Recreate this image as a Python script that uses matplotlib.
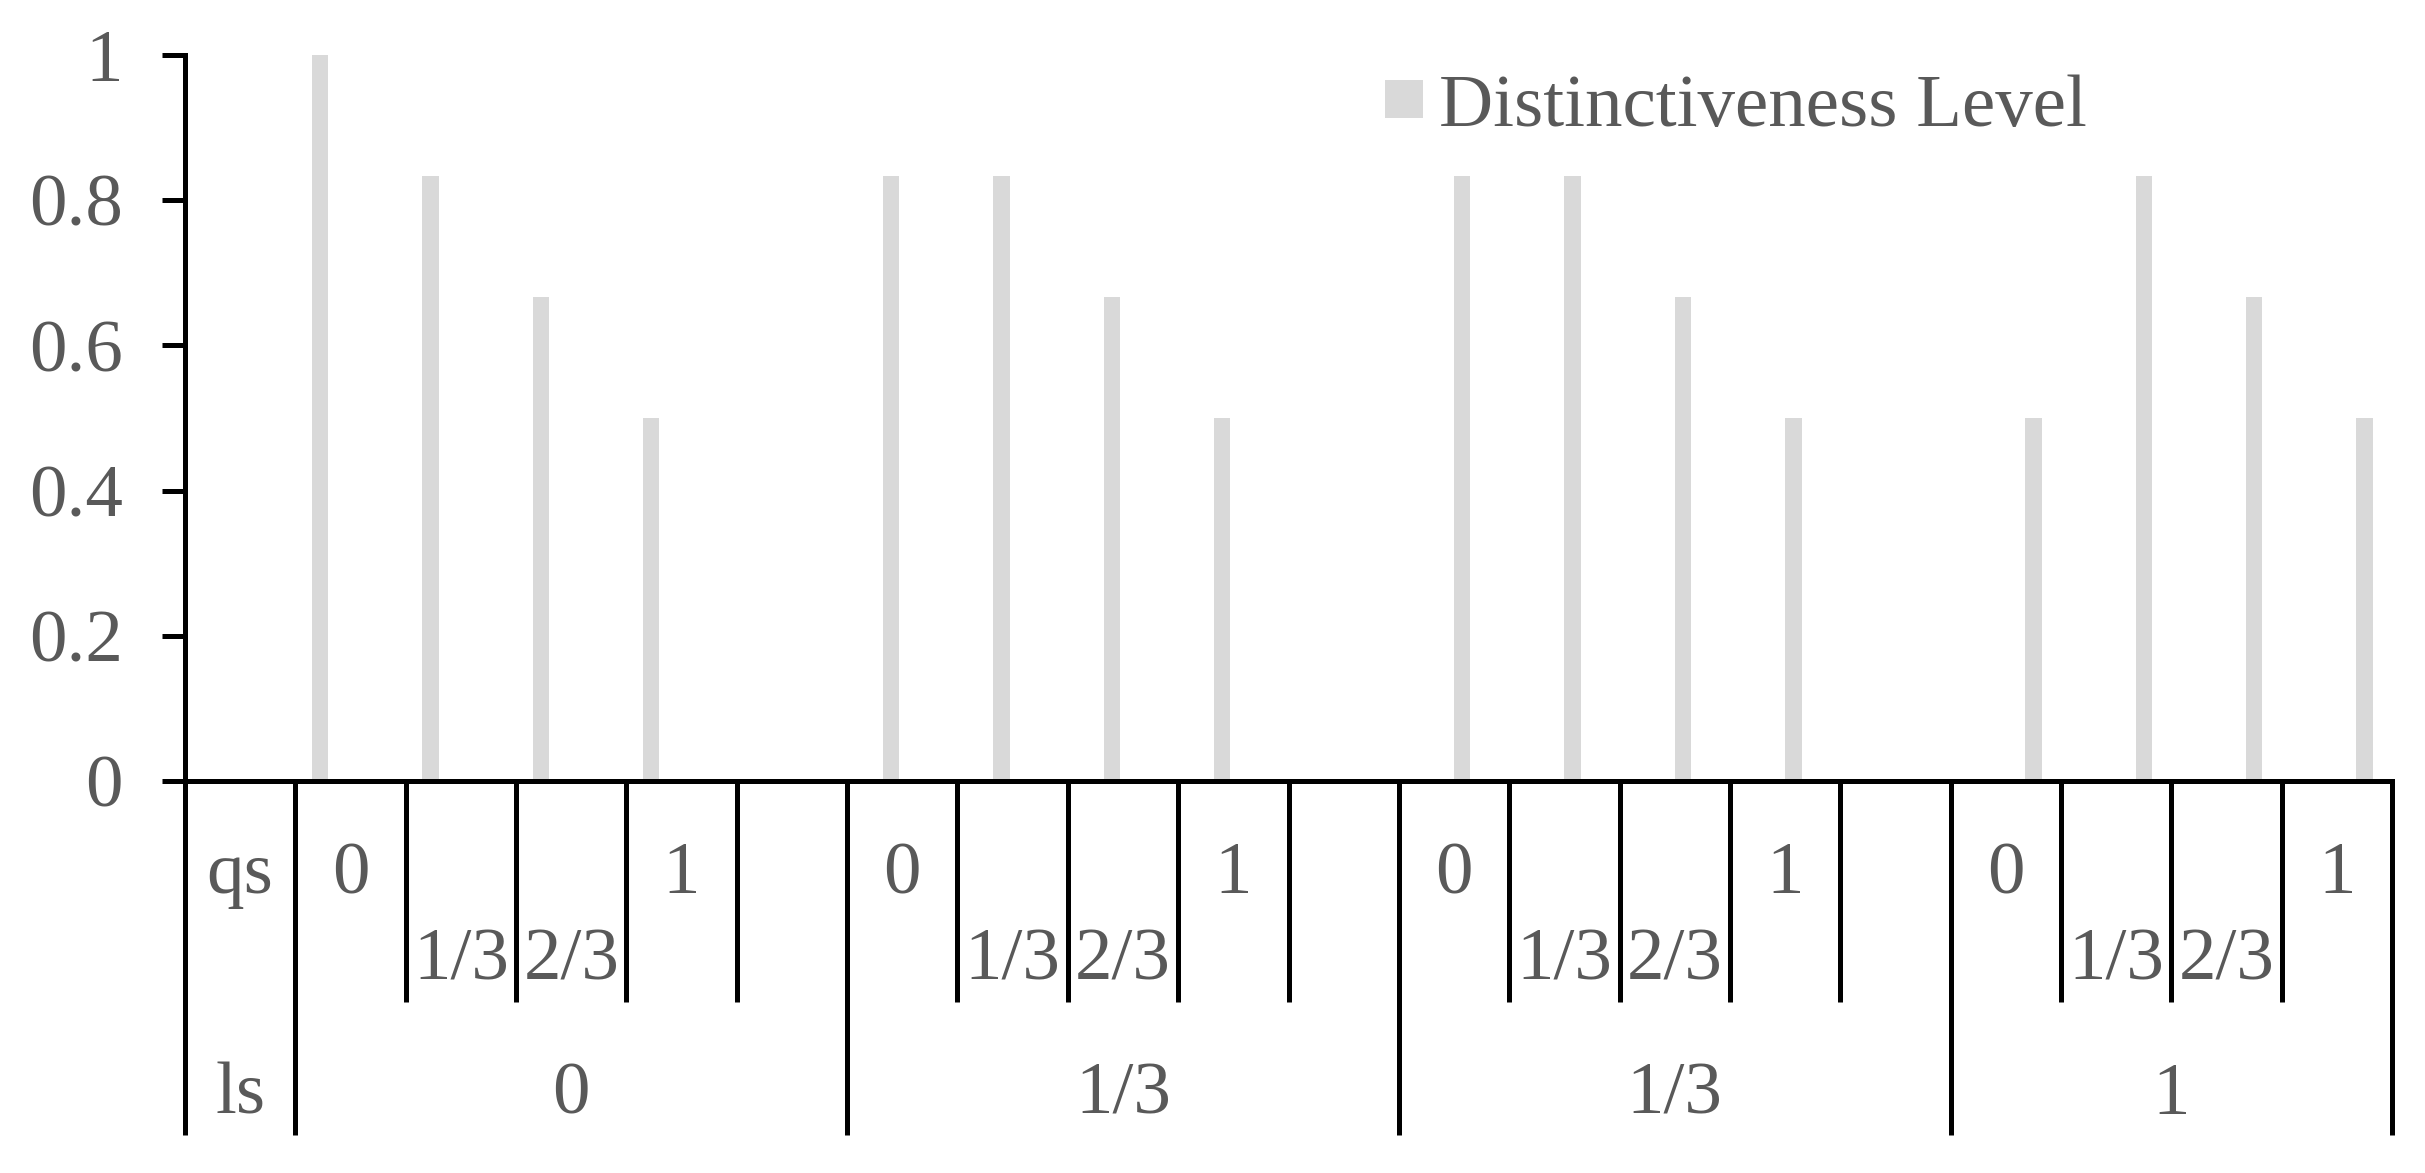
import numpy as np
import matplotlib
matplotlib.use("Agg")
import matplotlib.pyplot as plt

# data
qs_levels = ["0", "1/3", "2/3", "1"]
ls_groups = ["0", "1/3", "1/3", "1"]
group_cols = [5, 5, 5, 4]          # table columns per ls group (last has no spare slot)
distinctiveness = [1.0, 0.833, 0.667, 0.5,
                   0.833, 0.833, 0.667, 0.5,
                   0.833, 0.833, 0.667, 0.5,
                   0.5, 0.833, 0.667, 0.5]
yticks = [0, 0.2, 0.4, 0.6, 0.8, 1]
ytick_labels = ["0", "0.2", "0.4", "0.6", "0.8", "1"]

# layout (pixels on the 2425x1173 canvas)
W, H, DPI = 2425, 1173, 100
X0, X1 = 185.0, 2392.0
Y0, Y1 = 781.0, 55.0
TXT = "#595959"
BAR = "#D9D9D9"
FS = 54
LW = 3.6
BAR_X0, BAR_GROUP_PITCH, BAR_PITCH, BAR_W = 1.225, 5.175, 1.0, 0.148

plt.rcParams["font.family"] = ["Liberation Serif", "DejaVu Serif"]

fig = plt.figure(figsize=(W / DPI, H / DPI), dpi=DPI)
ax = fig.add_axes([X0 / W, 1 - Y0 / H, (X1 - X0) / W, (Y0 - Y1) / H])
ncols = 1 + sum(group_cols)
ax.set_xlim(0, ncols)
ax.set_ylim(0, 1)

px = (Y0 - Y1)  # pixels per data unit on y
def ydown(p):   # pixel y on canvas -> data y
    return -(p - Y0) / px

# bars
xs = []
for g in range(len(ls_groups)):
    for j in range(len(qs_levels)):
        xs.append(BAR_X0 + g * BAR_GROUP_PITCH + j * BAR_PITCH)
ax.bar(xs, distinctiveness, width=BAR_W, color=BAR, label="Distinctiveness Level", zorder=1)

# axes styling
for s in ["top", "right"]:
    ax.spines[s].set_visible(False)
for s in ["left", "bottom"]:
    ax.spines[s].set_linewidth(LW)
    ax.spines[s].set_color("black")
    ax.spines[s].set_zorder(3)
ax.set_xticks([])
ax.set_yticks(yticks)
ax.set_yticklabels(ytick_labels, fontsize=FS, color=TXT)
ax.tick_params(axis="y", length=16.6, width=LW, pad=28, direction="out")

# category table under the axis
short_end = ydown(1001.7)
tall_end = ydown(1135.0)
tall = [0, 1]
c = 1
for n in group_cols:
    c += n
    tall.append(c)
ax.vlines(tall, tall_end, 0, colors="black", lw=LW, clip_on=False)
short = [k for k in range(1, ncols) if k not in tall]
ax.vlines(short, short_end, 0, colors="black", lw=LW, clip_on=False)

row_hi, row_lo, row_ls = ydown(893), ydown(980), ydown(1114)
ax.text(0.5, row_hi, "qs", ha="center", va="baseline", fontsize=FS, color=TXT)
ax.text(0.5, row_ls, "ls", ha="center", va="baseline", fontsize=FS, color=TXT)
start = 1
for g, n in enumerate(group_cols):
    for j, lab in enumerate(qs_levels):
        yy = row_lo if "/" in lab else row_hi
        ax.text(start + j + 0.5, yy, lab, ha="center", va="baseline", fontsize=FS, color=TXT)
    ax.text(start + n / 2, row_ls, ls_groups[g], ha="center", va="baseline", fontsize=FS, color=TXT)
    start += n

leg = ax.legend(loc="center left", bbox_to_anchor=(1385 / W, 1 - 108 / H),
                bbox_transform=fig.transFigure, frameon=False, fontsize=FS,
                handlelength=0.5, handleheight=0.415, handletextpad=0.22,
                borderpad=0, borderaxespad=0)
for t in leg.get_texts():
    t.set_color(TXT)

fig.savefig("out.png", dpi=DPI)
